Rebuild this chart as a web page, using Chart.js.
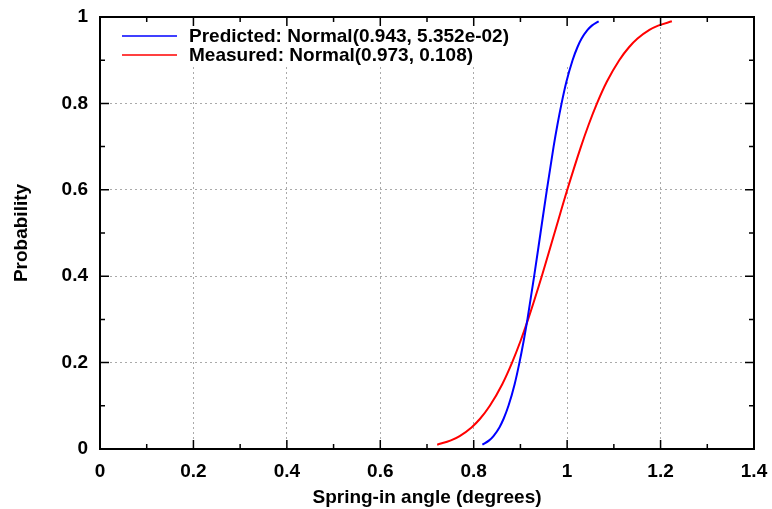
<!DOCTYPE html>
<html>
<head>
<meta charset="utf-8">
<script src="https://cdn.jsdelivr.net/npm/chart.js"></script>
<style>
  html, body { margin: 0; padding: 0; background: #fff; }
  #wrap { width: 772px; height: 509px; }
</style>
</head>
<body>
<div id="wrap"><canvas id="myChart"></canvas></div>
<script>
// values
const probs = [0.01, 0.02, 0.03, 0.05, 0.07, 0.1, 0.15, 0.2, 0.25, 0.3, 0.4, 0.5, 0.6, 0.7, 0.75, 0.8, 0.85, 0.9, 0.93, 0.95, 0.97, 0.98, 0.99];
const predictedX = [0.8185, 0.8331, 0.8423, 0.8550, 0.8640, 0.8744, 0.8876, 0.8979, 0.9069, 0.9150, 0.9294, 0.9430,
                    0.9566, 0.9710, 0.9791, 0.9881, 0.9984, 1.0116, 1.0220, 1.0310, 1.0437, 1.0529, 1.0675];
const measuredX = [0.7218, 0.7512, 0.7699, 0.7953, 0.8136, 0.8345, 0.8611, 0.8821, 0.9002, 0.9164, 0.9457, 0.9730,
                   1.0003, 1.0296, 1.0458, 1.0639, 1.0849, 1.1115, 1.1324, 1.1507, 1.1761, 1.1948, 1.2242];
const seriesLabels = ['Predicted: Normal(0.943, 5.352e-02)', 'Measured: Normal(0.973, 0.108)'];
const xTicks = [0, 0.2, 0.4, 0.6, 0.8, 1, 1.2, 1.4];
const yTicks = [0, 0.2, 0.4, 0.6, 0.8, 1];

const FONT = 'Liberation Sans, Arial, Helvetica, sans-serif';

function pts(xs) {
  return xs.map((x, i) => ({ x: x, y: probs[i] }));
}

// white key area, then key + inward ticks + frame like gnuplot
const gnuplotLook = {
  id: 'gnuplotLook',
  beforeDatasetsDraw(chart) {
    const c = chart.ctx, a = chart.chartArea;
    c.save();
    c.fillStyle = '#fff';
    c.fillRect(a.left + 1, a.top + 1, 475, 48);
    c.restore();
  },
  afterDraw(chart) {
    const c = chart.ctx, a = chart.chartArea;
    const xs = chart.scales.x, ys = chart.scales.y;
    c.save();
    c.strokeStyle = '#000';
    c.lineWidth = 1.5;
    c.beginPath();
    for (let i = 0; i <= 14; i++) {
      const px = xs.getPixelForValue(i / 10);
      const len = i % 2 === 0 ? 9 : 5;
      c.moveTo(px, a.bottom); c.lineTo(px, a.bottom - len);
      c.moveTo(px, a.top); c.lineTo(px, a.top + len);
    }
    for (let i = 0; i <= 10; i++) {
      const py = ys.getPixelForValue(i / 10);
      const len = i % 2 === 0 ? 9 : 5;
      c.moveTo(a.left, py); c.lineTo(a.left + len, py);
      c.moveTo(a.right, py); c.lineTo(a.right - len, py);
    }
    c.stroke();
    c.lineWidth = 2;
    c.strokeRect(a.left, a.top, a.right - a.left, a.bottom - a.top);

    // key
    c.font = 'bold 19px ' + FONT;
    c.textAlign = 'left';
    c.textBaseline = 'middle';
    chart.data.datasets.forEach((ds, i) => {
      const y = a.top + 19 + i * 19;
      c.strokeStyle = ds.borderColor;
      c.lineWidth = 1.6;
      c.beginPath();
      c.moveTo(a.left + 22, y); c.lineTo(a.left + 77, y);
      c.stroke();
      c.fillStyle = '#000';
      c.fillText(ds.label, a.left + 89, y + 1);
    });
    c.restore();
  }
};

const fmt = v => String(Math.round(v * 10) / 10);

new Chart(document.getElementById('myChart'), {
  type: 'scatter',
  data: {
    datasets: [{
      label: seriesLabels[0],
      data: pts(predictedX),
      borderColor: '#0000ff',
      showLine: true,
      pointRadius: 0,
      borderWidth: 2,
      cubicInterpolationMode: 'monotone'
    }, {
      label: seriesLabels[1],
      data: pts(measuredX),
      borderColor: '#ff0000',
      showLine: true,
      pointRadius: 0,
      borderWidth: 2,
      cubicInterpolationMode: 'monotone'
    }]
  },
  options: {
    responsive: true,
    maintainAspectRatio: false,
    animation: false,
    layout: { padding: { top: 17, right: 18, left: 0, bottom: 0 } },
    plugins: {
      legend: { display: false },
      tooltip: { enabled: false }
    },
    scales: {
      x: {
        type: 'linear',
        min: 0, max: 1.4,
        afterFit: s => { s.height = 60; s.paddingLeft = 0; s.paddingRight = 0; },
        afterBuildTicks: s => { s.ticks = xTicks.map(v => ({ value: v })); },
        border: { display: false, dash: [2, 3] },
        grid: { drawTicks: false, color: '#aaaaaa', lineWidth: 1 },
        ticks: { color: '#000', padding: 11, callback: fmt, font: { family: FONT, size: 19, weight: 'bold' } },
        title: {
          display: true, text: 'Spring-in angle (degrees)', color: '#000',
          padding: { top: 0, bottom: 0 },
          font: { family: FONT, size: 19, weight: 'bold' }
        }
      },
      y: {
        type: 'linear',
        min: 0, max: 1,
        afterFit: s => { s.width = 100; s.paddingTop = 0; s.paddingBottom = 0; },
        afterBuildTicks: s => { s.ticks = yTicks.map(v => ({ value: v })); },
        border: { display: false, dash: [2, 3] },
        grid: { drawTicks: false, color: '#aaaaaa', lineWidth: 1 },
        ticks: { color: '#000', padding: 12, callback: fmt, font: { family: FONT, size: 19, weight: 'bold' } },
        title: {
          display: true, text: 'Probability', color: '#000',
          padding: { top: 10, bottom: 0 },
          font: { family: FONT, size: 19, weight: 'bold' }
        }
      }
    }
  },
  plugins: [gnuplotLook]
});
</script>
</body>
</html>
